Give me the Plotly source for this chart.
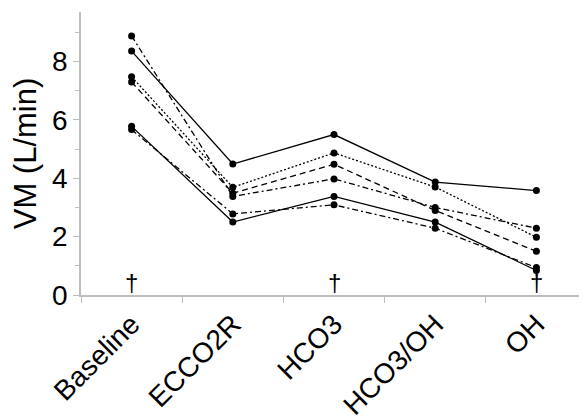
import plotly.graph_objects as go

categories = ["Baseline", "ECCO2R", "HCO3", "HCO3/OH", "OH"]
solid_a = [8.36, 4.49, 5.50, 3.87, 3.58]
solid_b = [5.78, 2.50, 3.38, 2.50, 0.84]
dotted = [7.48, 3.69, 4.87, 3.70, 1.98]
dashed = [7.30, 3.49, 4.48, 2.90, 1.50]
dashdot_a = [8.88, 3.38, 3.98, 3.00, 2.29]
dashdot_b = [5.67, 2.78, 3.09, 2.29, 0.94]
dagger_categories = ["Baseline", "HCO3", "OH"]

series = [
    (solid_a, "solid"),
    (solid_b, "solid"),
    (dotted, "2px,2px"),
    (dashed, "6px,4px"),
    (dashdot_a, "6px,3px,2px,3px"),
    (dashdot_b, "6px,3px,2px,3px"),
]

fig = go.Figure()
for vals, dash in series:
    fig.add_trace(go.Scatter(
        x=categories, y=vals, mode="lines+markers",
        line=dict(color="black", width=1.3, dash=dash),
        marker=dict(color="black", size=7),
        showlegend=False,
    ))

for c in dagger_categories:
    fig.add_annotation(x=c, y=0, yanchor="bottom", text="†", showarrow=False,
                       font=dict(size=24, color="#000000", family="Liberation Sans"),
                       yshift=-3)

# page body has an 8px default margin, so the figure is 8px smaller
fig.update_layout(
    width=579, height=408,
    margin=dict(l=73, r=0, t=4, b=121),
    plot_bgcolor="white", paper_bgcolor="white",
    font=dict(family="Liberation Sans, Arial, sans-serif", color="black"),
    xaxis=dict(
        type="category", range=[-0.5, 4.5], automargin=False,
        showline=True, linecolor="#bdbdbd", linewidth=1.5,
        showgrid=False, zeroline=False,
        ticks="outside", tickson="boundaries", ticklen=6, tickcolor="#bdbdbd",
        tickangle=-45, tickfont=dict(size=28),
    ),
    yaxis=dict(
        range=[0, 9.7], automargin=False,
        showline=True, linecolor="#bdbdbd", linewidth=1.5,
        showgrid=False, zeroline=False,
        tickvals=[0, 2, 4, 6, 8],
        ticks="outside", ticklen=6, tickcolor="#bdbdbd",
        minor=dict(tickvals=[1, 3, 5, 7, 9], ticks="outside", ticklen=4, tickcolor="#bdbdbd"),
        tickfont=dict(size=28),
        title=dict(text="VM (L/min)", font=dict(size=31), standoff=10),
    ),
)

fig.write_html("out.html")
